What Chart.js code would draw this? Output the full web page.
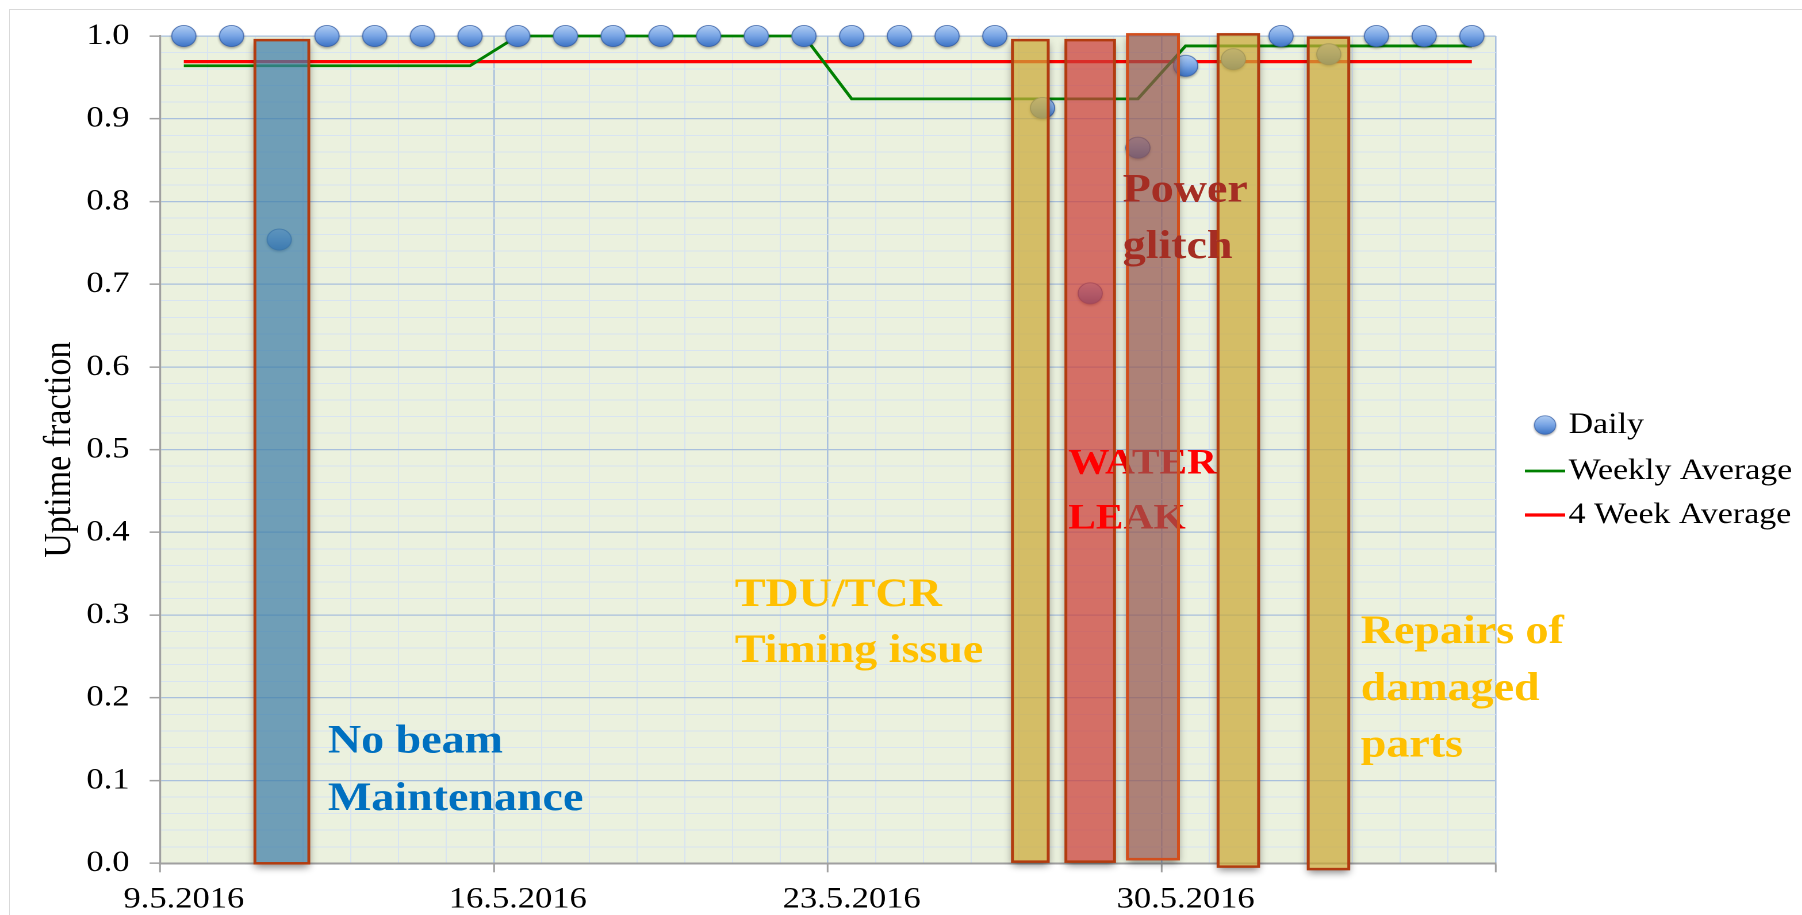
<!DOCTYPE html>
<html>
<head>
<meta charset="utf-8">
<script src="https://cdn.jsdelivr.net/npm/chart.js@4"></script>
<style>
html,body{margin:0;padding:0;background:#fff;overflow:hidden;width:1802px;height:915px;}
#frame{position:absolute;left:9px;top:9px;width:2000px;height:1000px;border:1px solid #d9d9d9;box-sizing:border-box;}
#wrap{position:absolute;left:0;top:0;width:1567px;height:915px;transform:scaleX(1.15);transform-origin:0 0;}
</style>
</head>
<body>
<div id="frame"></div>
<div id="wrap"><canvas id="c"></canvas></div>
<script>
// ---------- data ----------
const days = ['9.5.2016','10.5.2016','11.5.2016','12.5.2016','13.5.2016','14.5.2016','15.5.2016',
              '16.5.2016','17.5.2016','18.5.2016','19.5.2016','20.5.2016','21.5.2016','22.5.2016',
              '23.5.2016','24.5.2016','25.5.2016','26.5.2016','27.5.2016','28.5.2016','29.5.2016',
              '30.5.2016','31.5.2016','1.6.2016','2.6.2016','3.6.2016','4.6.2016','5.6.2016'];
const daily = [1.0, 1.0, 0.754, 1.0, 1.0, 1.0, 1.0,
               1.0, 1.0, 1.0, 1.0, 1.0, 1.0, 1.0,
               1.0, 1.0, 1.0, 1.0, 0.913, 0.689, 0.865,
               0.964, 0.972, 1.0, 0.978, 1.0, 1.0, 1.0];
const weekly = [0.964, 0.964, 0.964, 0.964, 0.964, 0.964, 0.964,
                1.0, 1.0, 1.0, 1.0, 1.0, 1.0, 1.0,
                0.924, 0.924, 0.924, 0.924, 0.924, 0.924, 0.924,
                0.988, 0.988, 0.988, 0.988, 0.988, 0.988, 0.988];
const fourWeek = [0.969, 0.969, 0.969, 0.969, 0.969, 0.969, 0.969,
                  0.969, 0.969, 0.969, 0.969, 0.969, 0.969, 0.969,
                  0.969, 0.969, 0.969, 0.969, 0.969, 0.969, 0.969,
                  0.969, 0.969, 0.969, 0.969, 0.969, 0.969, 0.969];
const seriesNames = ['Daily', 'Weekly Average', '4 Week Average'];
const xTickLabels = ['9.5.2016', '16.5.2016', '23.5.2016', '30.5.2016'];
const yTickLabels = ['0.0','0.1','0.2','0.3','0.4','0.5','0.6','0.7','0.8','0.9','1.0'];
const yTitle = 'Uptime fraction';
// event boxes: time span in days counted from the start of 9.5.2016, and uptime range
const boxStart = [1.99, 17.87, 18.99, 20.28, 22.18, 24.07];
const boxEnd   = [3.12, 18.62, 20.01, 21.35, 23.03, 24.92];
const boxLow   = [0.0, 0.002, 0.002, 0.005, -0.004, -0.007];
const boxHigh  = [0.995, 0.995, 0.995, 1.002, 1.002, 0.998];
const noteText = [['No beam', 'Maintenance'], ['TDU/TCR', 'Timing issue'], ['WATER', 'LEAK'],
                  ['Power', 'glitch'], ['Repairs of', 'damaged', 'parts']];

// ---------- styles / placement ----------
const boxStyle = [
  {fill: 'rgba(62,126,168,0.72)', stroke: '#B23C10'},
  {fill: 'rgba(202,169,56,0.72)', stroke: '#B23C10'},
  {fill: 'rgba(202,61,55,0.72)',  stroke: '#B23C10'},
  {fill: 'rgba(148,86,79,0.72)',  stroke: '#D24E1C'},
  {fill: 'rgba(202,169,56,0.72)', stroke: '#B23C10'},
  {fill: 'rgba(202,169,56,0.72)', stroke: '#B23C10'}
];
const notePlace = [
  {x: 3.52,  y: 0.134, color: '#0070C0', size: 40, gap: 57.5, after: 5},
  {x: 12.05, y: 0.311, color: '#FFC000', size: 40, gap: 56,   after: 5},
  {x: 19.04, y: 0.471, color: '#FF0000', size: 36, gap: 55,   after: 2},
  {x: 20.18, y: 0.800, color: '#A52D23', size: 40, gap: 56.5, after: 5},
  {x: 25.17, y: 0.266, color: '#FFC000', size: 40, gap: 56.7, after: 5}
];
const BG = '#EBF1DE', MAJOR = '#A9C0DD', MINOR = '#D8E4F1', AXIS = '#A0A0A0';
const DPR = 2;

// glossy ball image used for the Daily points
const BALL = 30, SC = 4;
const bc = document.createElement('canvas');
bc.width = bc.height = BALL * SC;
(function () {
  const g = bc.getContext('2d');
  g.scale(SC, SC);
  const c = BALL / 2, R = 10.9;
  const grd = g.createLinearGradient(0, c - R, 0, c + R);
  grd.addColorStop(0, '#B2CEF3');
  grd.addColorStop(0.5, '#79A5E5');
  grd.addColorStop(1, '#3B72C4');
  g.save();
  g.shadowColor = 'rgba(0,0,0,0.35)';
  g.shadowBlur = 2.5 * SC;
  g.shadowOffsetY = 1.5 * SC;
  g.beginPath(); g.arc(c, c, R, 0, Math.PI * 2);
  g.fillStyle = grd; g.fill();
  g.restore();
  g.beginPath(); g.arc(c, c, R - 0.4, 0, Math.PI * 2);
  g.lineWidth = 0.8; g.strokeStyle = 'rgba(55,95,165,0.9)'; g.stroke();
})();
const ballImg = new Image();
ballImg.width = BALL; ballImg.height = BALL;

function isMajorY(v) { return Math.abs(v * 10 - Math.round(v * 10)) < 1e-6; }

const deco = {
  id: 'deco',
  beforeDraw(chart) {
    const {ctx, chartArea: a} = chart;
    ctx.save();
    ctx.fillStyle = BG;
    ctx.fillRect(a.left, a.top, a.right - a.left, a.bottom - a.top);
    ctx.restore();
  },
  afterDatasetsDraw(chart) {
    const ctx = chart.ctx, xs = chart.scales.x, ys = chart.scales.y;
    const drawNotes = (k) => {
      notePlace.forEach((n, j) => {
        if (n.after !== k) return;
        const px = xs.getPixelForValue(n.x - 0.5), py = ys.getPixelForValue(n.y);
        ctx.save();
        ctx.font = 'bold ' + n.size + 'px "Liberation Serif"';
        ctx.fillStyle = n.color;
        ctx.textBaseline = 'alphabetic';
        ctx.textAlign = 'left';
        noteText[j].forEach((t, m) => ctx.fillText(t, px, py + m * n.gap));
        ctx.restore();
      });
    };
    for (let i = 0; i < boxStart.length; i++) {
      const l = xs.getPixelForValue(boxStart[i] - 0.5), r = xs.getPixelForValue(boxEnd[i] - 0.5);
      const t = ys.getPixelForValue(boxHigh[i]), b = ys.getPixelForValue(boxLow[i]);
      // soft shadow outside the box
      ctx.save();
      ctx.beginPath();
      ctx.rect(0, 0, chart.width, chart.height);
      ctx.rect(l, t, r - l, b - t);
      ctx.clip('evenodd');
      ctx.shadowColor = 'rgba(0,0,0,0.45)';
      ctx.shadowBlur = 7 * DPR;
      ctx.shadowOffsetX = 10000 * DPR;
      ctx.shadowOffsetY = 4 * DPR;
      ctx.fillStyle = '#000';
      ctx.fillRect(l - 10000, t, r - l, b - t);
      ctx.restore();
      ctx.save();
      ctx.fillStyle = boxStyle[i].fill;
      ctx.fillRect(l, t, r - l, b - t);
      ctx.lineWidth = 2.5;
      ctx.strokeStyle = boxStyle[i].stroke;
      ctx.strokeRect(l, t, r - l, b - t);
      ctx.restore();
      drawNotes(i);
    }
  },
  afterDraw(chart) {
    // legend
    const ctx = chart.ctx;
    const rows = [425, 471, 515];
    ctx.save();
    ctx.font = '29.5px "Liberation Serif"';
    ctx.fillStyle = '#000';
    ctx.textBaseline = 'middle';
    ctx.textAlign = 'left';
    const ds = chart.data.datasets;
    ds.forEach((d, i) => {
      const y = rows[i];
      if (i === 0) {
        const s = BALL * 0.88;
        ctx.drawImage(ballImg, 1343.5 - s / 2, y - s / 2, s, s);
      } else {
        ctx.beginPath();
        ctx.moveTo(1326, y); ctx.lineTo(1361, y);
        ctx.lineWidth = d.borderWidth; ctx.strokeStyle = d.borderColor;
        ctx.stroke();
      }
      ctx.fillText(d.label, 1364, y);
    });
    ctx.restore();
  }
};

function build() {
  new Chart(document.getElementById('c'), {
    type: 'line',
    data: {
      labels: days,
      datasets: [
        {label: seriesNames[0], data: daily, showLine: false, pointStyle: ballImg,
         pointRadius: 11, pointHoverRadius: 11, pointBorderWidth: 0, clip: false, order: 0},
        {label: seriesNames[1], data: weekly, borderColor: '#008000', borderWidth: 2.8,
         pointRadius: 0, tension: 0, clip: false, order: 1},
        {label: seriesNames[2], data: fourWeek, borderColor: '#FF0000', borderWidth: 3.3,
         pointRadius: 0, tension: 0, clip: false, order: 2}
      ]
    },
    options: {
      responsive: true,
      maintainAspectRatio: false,
      devicePixelRatio: DPR,
      animation: false,
      events: [],
      layout: {padding: {left: 0, top: 36, right: 266.4, bottom: 0}},
      plugins: {legend: {display: false}, tooltip: {enabled: false}},
      scales: {
        x: {
          type: 'category',
          offset: true,
          afterFit(s) { s.height = 51.7; },
          grid: {
            offset: true,
            tickLength: 9,
            color: c => (c.index === undefined || c.index % 7 === 0) ? MAJOR : MINOR,
            lineWidth: c => (c.index === undefined || c.index % 7 === 0) ? 1.3 : 1,
            tickColor: c => (c.index === undefined || c.index % 7 === 0) ? AXIS : 'rgba(0,0,0,0)',
            tickWidth: 1.5
          },
          border: {display: true, color: AXIS, width: 2},
          ticks: {
            autoSkip: false, maxRotation: 0, minRotation: 0, padding: 11,
            color: '#000',
            font: {family: 'Liberation Serif', size: 30, lineHeight: 1.1},
            callback: function (v, i) { return xTickLabels.includes(days[i]) ? days[i] : ''; }
          }
        },
        y: {
          type: 'linear',
          min: 0, max: 1,
          afterFit(s) { s.width = 139.1; },
          grid: {
            tickLength: 9,
            color: c => isMajorY(c.tick.value) ? MAJOR : MINOR,
            lineWidth: c => isMajorY(c.tick.value) ? 1.3 : 1,
            tickColor: c => isMajorY(c.tick.value) ? AXIS : 'rgba(0,0,0,0)',
            tickWidth: 1.5
          },
          border: {display: true, color: AXIS, width: 1.6},
          ticks: {
            stepSize: 0.02, autoSkip: false, padding: 17.5, color: '#000',
            font: {family: 'Liberation Serif', size: 30, lineHeight: 1.1},
            callback: v => isMajorY(v) ? yTickLabels[Math.round(v * 10)] : ''
          },
          title: {
            display: true, text: yTitle, color: '#000',
            font: {family: 'Liberation Serif', size: 34, lineHeight: 1},
            padding: {top: 35, bottom: 0}
          }
        }
      }
    },
    plugins: [deco]
  });
}
ballImg.onload = build;
ballImg.src = bc.toDataURL();
</script>
</body>
</html>
